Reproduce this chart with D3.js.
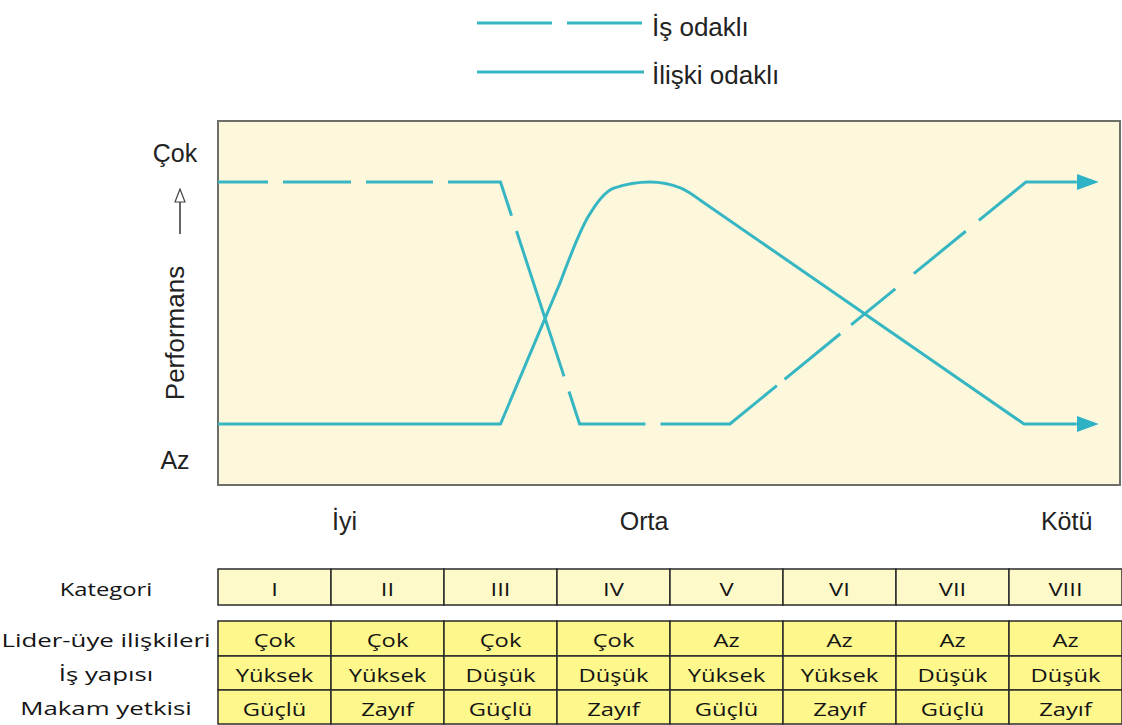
<!DOCTYPE html>
<html>
<head>
<meta charset="utf-8">
<script src="https://cdn.jsdelivr.net/npm/d3@7"></script>
<style>
  html, body { margin: 0; padding: 0; background: #ffffff; }
  svg { display: block; }
</style>
</head>
<body>
<svg id="chart" width="1122" height="725"></svg>
<script>
// ---------------- DATA ----------------
const categories = ["I", "II", "III", "IV", "V", "VI", "VII", "VIII"];
const liderUye   = ["Çok", "Çok", "Çok", "Çok", "Az", "Az", "Az", "Az"];
const isYapisi   = ["Yüksek", "Yüksek", "Düşük", "Düşük", "Yüksek", "Yüksek", "Düşük", "Düşük"];
const makamYetki = ["Güçlü", "Zayıf", "Güçlü", "Zayıf", "Güçlü", "Zayıf", "Güçlü", "Zayıf"];
const rowLabels  = ["Lider-üye ilişkileri", "İş yapısı", "Makam yetkisi"];
const headerLabel = "Kategori";

const zoneLabels = ["İyi", "Orta", "Kötü"];
const zonePos    = [1.12, 3.77, 7.51];          // position along category axis

const yTickLabels = ["Az", "Çok"];               // performance levels 0 and 1
const yAxisTitle  = "Performans";

const seriesNames = ["İş odaklı", "İlişki odaklı"];

// Task-oriented (dashed) line: x in category units, y performance 0..1
const taskX = [0, 2.50, 3.20, 4.53, 7.15, 7.60];
const taskY = [1, 1,    0,    0,    1,    1];

// Relationship-oriented (solid) line, in three parts
const relStartX = [0, 2.50, 3.027];
const relStartY = [0, 0,    0.583];
const relArcX   = [3.027, 3.274, 3.504, 3.823, 4.097, 4.265];
const relArcY   = [0.583, 0.855, 0.975, 1.0,   0.975, 0.926];
const relEndX   = [4.265, 7.133, 7.60];
const relEndY   = [0.926, 0,     0];

// ---------------- LAYOUT ----------------
const svg = d3.select("#chart");
const plot = { left: 218, right: 1120, top: 121, bottom: 485 };
const x = d3.scaleLinear().domain([0, 8]).range([218, 1122]);
const y = d3.scaleLinear().domain([0, 1]).range([424, 182]);
const lineColor = "#36b6c3";
const arrowColor = "#2db2c6";
const textFont = "'Liberation Sans', Arial, sans-serif";
const tableFont = "'Open Sans', sans-serif";
// irregular dash pattern of the task line, as drawn in the original
const taskDash = "50,15,68,15,67,15,88,16,153,16,100,15,130,10,72,14,57,24,67,17,200";

// arrow markers
const defs = svg.append("defs");
defs.append("marker")
  .attr("id", "arrow")
  .attr("markerUnits", "userSpaceOnUse")
  .attr("viewBox", "0 0 22 18")
  .attr("refX", 0).attr("refY", 9)
  .attr("markerWidth", 22).attr("markerHeight", 18)
  .attr("orient", "auto")
  .append("path").attr("d", "M0,1 L22,9 L0,17 Z").attr("fill", arrowColor);

defs.append("marker")
  .attr("id", "openArrow")
  .attr("markerUnits", "userSpaceOnUse")
  .attr("viewBox", "0 0 12 15")
  .attr("refX", 6).attr("refY", 14)
  .attr("markerWidth", 12).attr("markerHeight", 15)
  .attr("orient", "0")
  .append("path").attr("d", "M1,14 L6,1 L11,14 Z")
  .attr("fill", "#ffffff").attr("stroke", "#444").attr("stroke-width", 1.2);

// plot background
svg.append("rect")
  .attr("x", plot.left).attr("y", plot.top)
  .attr("width", plot.right - plot.left).attr("height", plot.bottom - plot.top)
  .attr("fill", "#fdf8dc").attr("stroke", "#6f6f6a").attr("stroke-width", 2);

// lines
const lin = d3.line().x(d => x(d[0])).y(d => y(d[1])).curve(d3.curveLinear);
const mono = d3.line().x(d => x(d[0])).y(d => y(d[1])).curve(d3.curveMonotoneX);
const zip = (a, b) => a.map((v, i) => [v, b[i]]);

// relationship (solid) line: straight rise, rounded top, straight fall
const relD = lin(zip(relStartX, relStartY)) +
             mono(zip(relArcX, relArcY)).replace(/^M[^CL]*/, "") +
             lin(zip(relEndX, relEndY)).replace(/^M[^CL]*/, "");
svg.append("path")
  .attr("d", relD)
  .attr("fill", "none").attr("stroke", lineColor).attr("stroke-width", 3)
  .attr("stroke-linejoin", "round")
  .attr("marker-end", "url(#arrow)");

// task (dashed) line
svg.append("path")
  .attr("d", lin(zip(taskX, taskY)))
  .attr("fill", "none").attr("stroke", lineColor).attr("stroke-width", 3)
  .attr("stroke-dasharray", taskDash)
  .attr("marker-end", "url(#arrow)");

// y labels
svg.append("text").text(yTickLabels[1])
  .attr("x", 175).attr("y", 162).attr("text-anchor", "middle")
  .attr("font-family", textFont).attr("font-size", 25).attr("fill", "#222");
svg.append("text").text(yTickLabels[0])
  .attr("x", 175).attr("y", 469).attr("text-anchor", "middle")
  .attr("font-family", textFont).attr("font-size", 25).attr("fill", "#222");

// y axis title (rotated) and arrow
svg.append("text").text(yAxisTitle)
  .attr("transform", "translate(184,333) rotate(-90)")
  .attr("text-anchor", "middle")
  .attr("font-family", textFont).attr("font-size", 26).attr("fill", "#222");
svg.append("line")
  .attr("x1", 180).attr("x2", 180).attr("y1", 234).attr("y2", 202)
  .attr("stroke", "#333").attr("stroke-width", 1.5)
  .attr("marker-end", "url(#openArrow)");

// zone labels
svg.selectAll("text.zone").data(zoneLabels).join("text")
  .attr("class", "zone")
  .attr("x", (d, i) => x(zonePos[i])).attr("y", 530)
  .attr("text-anchor", "middle")
  .attr("font-family", textFont).attr("font-size", 25).attr("fill", "#222")
  .text(d => d);

// legend
const legendY = [23, 72];
const legTextY = [36, 84];
svg.append("line")
  .attr("x1", 477).attr("x2", 644).attr("y1", legendY[0]).attr("y2", legendY[0])
  .attr("stroke", lineColor).attr("stroke-width", 3)
  .attr("stroke-dasharray", "75,15");
svg.append("line")
  .attr("x1", 477).attr("x2", 644).attr("y1", legendY[1]).attr("y2", legendY[1])
  .attr("stroke", lineColor).attr("stroke-width", 3);
svg.selectAll("text.leg").data(seriesNames).join("text")
  .attr("class", "leg")
  .attr("x", 652).attr("y", (d, i) => legTextY[i])
  .attr("font-family", textFont).attr("font-size", 26).attr("fill", "#222")
  .text(d => d);

// ---------------- TABLES ----------------
const colW = x(1) - x(0);
function cellText(g, txt, cx, cy, sx) {
  g.append("text")
    .attr("transform", `translate(${cx},${cy}) scale(${sx},1)`)
    .attr("text-anchor", "middle").attr("dominant-baseline", "central")
    .attr("font-family", tableFont).attr("font-size", 19).attr("fill", "#141414")
    .text(txt);
}

// Kategori row
const katTop = 569, katBot = 605;
const kg = svg.append("g");
categories.forEach((c, i) => {
  kg.append("rect")
    .attr("x", x(i)).attr("y", katTop).attr("width", colW).attr("height", katBot - katTop)
    .attr("fill", "#fdf9c9").attr("stroke", "#2a2a2a").attr("stroke-width", 1.5);
  cellText(kg, c, x(i + 0.5), (katTop + katBot) / 2 + 1, 1.25);
});
cellText(kg, headerLabel, 106, (katTop + katBot) / 2 + 1, 1.25);

// lower table
const rowTops = [621, 656, 690];
const rowH = [35, 34, 34];
const rows = [liderUye, isYapisi, makamYetki];
const tg = svg.append("g");
rows.forEach((row, r) => {
  row.forEach((v, i) => {
    tg.append("rect")
      .attr("x", x(i)).attr("y", rowTops[r]).attr("width", colW).attr("height", rowH[r])
      .attr("fill", "#fdf78c").attr("stroke", "#2a2a2a").attr("stroke-width", 1.5);
  });
});
rows.forEach((row, r) => {
  row.forEach((v, i) => cellText(tg, v, x(i + 0.5), rowTops[r] + rowH[r] / 2 + 1, 1.25));
  cellText(tg, rowLabels[r], 106, rowTops[r] + rowH[r] / 2 + 1, 1.36);
});
</script>
</body>
</html>
